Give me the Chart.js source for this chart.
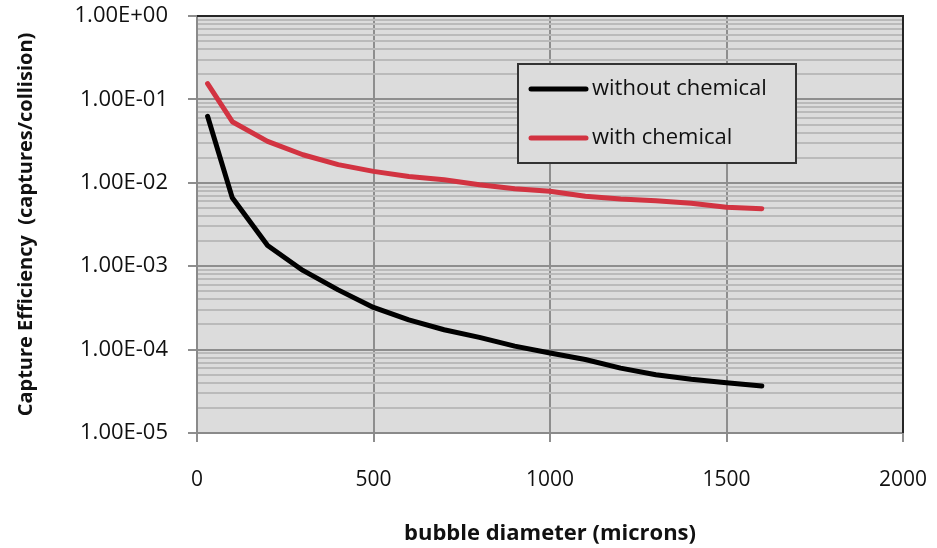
<!DOCTYPE html>
<html>
<head>
<meta charset="utf-8">
<script src="https://cdn.jsdelivr.net/npm/chart.js@4/dist/chart.umd.min.js"></script>
<style>
  html, body { margin: 0; padding: 0; background: #ffffff; }
  #wrap { width: 937px; height: 548px; }
</style>
</head>
<body>
<div id="wrap"><canvas id="c" width="937" height="548"></canvas></div>
<script>
// Bubble diameter (microns)
const diameters = [30, 100, 200, 300, 400, 500, 600, 700, 800, 900, 1000, 1100, 1200, 1300, 1400, 1500, 1600];
// Capture efficiency (captures/collision)
const withoutChemical = [0.0627, 0.0066, 0.00177, 0.00089, 0.00052, 0.00032, 0.000227, 0.000173, 0.000140, 0.00011, 0.000091, 0.000076, 0.00006, 0.00005, 0.000044, 0.00004, 0.0000367];
const withChemical = [0.155, 0.054, 0.0314, 0.0217, 0.0165, 0.0137, 0.0119, 0.0109, 0.0095, 0.0085, 0.0079, 0.0069, 0.0064, 0.0061, 0.0057, 0.0051, 0.0049];
const seriesNames = ['without chemical', 'with chemical'];
const seriesColors = ['#000000', '#d23341'];
const xTickValues = [0, 500, 1000, 1500, 2000];
const yDecades = [-5, -4, -3, -2, -1, 0];

const FONT = '"Open Sans", Lato, "Liberation Sans", sans-serif';

function isDecade(v) {
  const l = Math.log10(v);
  return Math.abs(l - Math.round(l)) < 1e-9;
}
function sciLabel(v) {
  const e = Math.round(Math.log10(v));
  const sign = e < 0 ? '-' : '+';
  const mag = String(Math.abs(e)).padStart(2, '0');
  return '1.00E' + sign + mag;
}

// Plot background, top/right frame and the boxed legend
const frame = {
  id: 'frame',
  beforeDraw(chart) {
    const { ctx, chartArea: a } = chart;
    ctx.save();
    ctx.fillStyle = '#dcdcdc';
    ctx.fillRect(a.left, a.top, a.right - a.left, a.bottom - a.top);
    ctx.restore();
  },
  afterDraw(chart) {
    const { ctx, chartArea: a } = chart;
    ctx.save();
    ctx.strokeStyle = '#262626';
    ctx.lineWidth = 2;
    ctx.beginPath();
    ctx.moveTo(a.left, a.top);
    ctx.lineTo(a.right, a.top);
    ctx.lineTo(a.right, a.bottom);
    ctx.stroke();

    // legend box
    const bx = a.left + 321, by = a.top + 48, bw = 278, bh = 99;
    ctx.fillStyle = '#dcdcdc';
    ctx.fillRect(bx, by, bw, bh);
    ctx.strokeStyle = '#333333';
    ctx.lineWidth = 2;
    ctx.strokeRect(bx, by, bw, bh);
    ctx.font = '22px ' + FONT;
    ctx.textBaseline = 'middle';
    ctx.textAlign = 'left';
    chart.data.datasets.forEach((ds, i) => {
      const ly = by + 25 + i * 49;
      ctx.strokeStyle = ds.borderColor;
      ctx.lineWidth = 5;
      ctx.lineCap = 'round';
      ctx.beginPath();
      ctx.moveTo(bx + 13, ly);
      ctx.lineTo(bx + 68, ly);
      ctx.stroke();
      ctx.fillStyle = '#111111';
      ctx.fillText(ds.label, bx + 74, ly);
    });
    ctx.restore();
  }
};

const datasets = [withoutChemical, withChemical].map((vals, i) => ({
  label: seriesNames[i],
  data: diameters.map((d, j) => ({ x: d, y: vals[j] })),
  borderColor: seriesColors[i],
  backgroundColor: seriesColors[i],
  borderWidth: 5,
  pointRadius: 0,
  tension: 0,
  borderCapStyle: 'round',
  borderJoinStyle: 'round'
}));

new Chart(document.getElementById('c'), {
  type: 'line',
  data: { datasets },
  plugins: [frame],
  options: {
    responsive: false,
    animation: false,
    devicePixelRatio: 1,
    layout: { padding: 0 },
    plugins: {
      legend: { display: false },
      tooltip: { enabled: false }
    },
    scales: {
      x: {
        type: 'linear',
        min: 0,
        max: 2000,
        afterBuildTicks(scale) {
          scale.ticks = xTickValues.map(v => ({ value: v }));
        },
        afterFit(scale) {
          scale.height = 115;
          scale.paddingLeft = 0;
          scale.paddingRight = 34;
        },
        ticks: {
          autoSkip: false,
          maxRotation: 0,
          padding: 25,
          color: '#111111',
          font: { family: FONT, size: 21 },
          callback(v) { return String(v); }
        },
        grid: {
          color: '#8e8e8e',
          lineWidth: 2,
          tickLength: 9,
          tickColor: '#8e8e8e',
          tickWidth: 2
        },
        border: { color: '#8a8a8a', width: 2 },
        title: {
          display: true,
          text: 'bubble diameter (microns)',
          color: '#111111',
          font: { family: FONT, size: 22, weight: 'bold' },
          padding: { top: 0, bottom: 1 }
        }
      },
      y: {
        type: 'logarithmic',
        min: 1e-5,
        max: 1,
        afterBuildTicks(scale) {
          const t = [];
          yDecades.forEach(e => {
            for (let m = 1; m <= 9; m++) {
              const v = m * Math.pow(10, e);
              if (v <= 1 + 1e-12) t.push({ value: e === 0 && m === 1 ? 1 : v });
              if (e === 0) break;
            }
          });
          scale.ticks = t;
        },
        afterFit(scale) {
          scale.width = 197;
          scale.paddingTop = 16;
          scale.paddingBottom = 0;
        },
        ticks: {
          autoSkip: false,
          padding: 20,
          color: '#111111',
          font: { family: FONT, size: 22 },
          callback(v) { return isDecade(v) ? sciLabel(v) : ''; }
        },
        grid: {
          color: ctx => isDecade(ctx.tick.value) ? '#8e8e8e' : '#bababa',
          lineWidth: 2,
          tickLength: 9,
          tickColor: ctx => isDecade(ctx.tick.value) ? '#8e8e8e' : 'rgba(0,0,0,0)',
          tickWidth: 2
        },
        border: { color: '#8a8a8a', width: 2 },
        title: {
          display: true,
          text: 'Capture Efficiency  (captures/collision)',
          color: '#111111',
          font: { family: FONT, size: 20, weight: 'bold' },
          padding: { top: 14, bottom: 0 }
        }
      }
    }
  }
});
</script>
</body>
</html>
